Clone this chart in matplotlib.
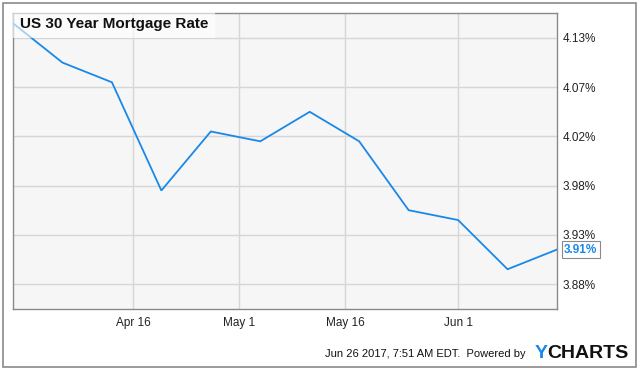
import matplotlib
matplotlib.use("Agg")
import matplotlib.pyplot as plt
import matplotlib.dates as mdates
from matplotlib.patches import Rectangle
import datetime as dt

plt.rcParams['font.family'] = ['Liberation Sans', 'DejaVu Sans']

dates = ["2017-03-30", "2017-04-06", "2017-04-13", "2017-04-20", "2017-04-27",
         "2017-05-04", "2017-05-11", "2017-05-18", "2017-05-25", "2017-06-01",
         "2017-06-08", "2017-06-15"]
rates = [4.14, 4.10, 4.08, 3.97, 4.03, 4.02, 4.05, 4.02, 3.95, 3.94, 3.89, 3.91]

ytick_values = [3.875, 3.925, 3.975, 4.025, 4.075, 4.125]
ytick_labels = ["3.88%", "3.93%", "3.98%", "4.02%", "4.07%", "4.13%"]
xtick_dates = ["2017-04-16", "2017-05-01", "2017-05-16", "2017-06-01"]
xtick_labels = ["Apr 16", "May 1", "May 16", "Jun 1"]

title = "US 30 Year Mortgage Rate"
footer = "Jun 26 2017, 7:51 AM EDT.  Powered by"

W, H = 641, 371
fig = plt.figure(figsize=(W / 100, H / 100), dpi=100)
fig.patch.set_facecolor("white")

# outer border
fig.patches.append(Rectangle((3 / W, 4 / H), 633 / W, 364 / H, transform=fig.transFigure,
                             fill=False, edgecolor="#8a8a8a", linewidth=1.2))

L, T, R, B = 13, 13, 557, 309
ax = fig.add_axes([L / W, 1 - B / H, (R - L) / W, (B - T) / H])
ax.set_facecolor("#f6f6f6")

x = [mdates.date2num(dt.datetime.strptime(d, "%Y-%m-%d")) for d in dates]
xt = [mdates.date2num(dt.datetime.strptime(d, "%Y-%m-%d")) for d in xtick_dates]

ax.plot(x, rates, color="#1a88e8", linewidth=1.3, solid_joinstyle="miter", zorder=3)
ax.set_xlim(x[0], x[-1])
ax.set_ylim(3.8496, 4.1504)

ax.set_yticks(ytick_values)
ax.set_yticklabels(ytick_labels)
ax.set_xticks(xt)
ax.set_xticklabels(xtick_labels)
ax.yaxis.tick_right()
ax.tick_params(axis="both", length=0, labelsize=8.5, colors="#222222")
ax.tick_params(axis="y", pad=4)
ax.tick_params(axis="x", pad=6)
ax.grid(True, color="#d6d6d6", linewidth=1.0)
ax.set_axisbelow(True)
for s in ax.spines.values():
    s.set_edgecolor("#8a8a8a")
    s.set_linewidth(1.0)

# title with light box
ax.text(0.012, 0.962, title, transform=ax.transAxes, fontsize=11, fontweight="bold",
        color="#111111", va="center", ha="left",
        bbox=dict(boxstyle="square,pad=0.45", facecolor="white", edgecolor="none", alpha=0.6),
        zorder=4)

# last value label
ax.annotate(f"{rates[-1]:.2f}%", xy=(x[-1], rates[-1]), xycoords="data",
            xytext=(5, 0), textcoords="offset points", fontsize=8.5, fontweight="bold",
            color="#1a88e8", va="center", ha="left", annotation_clip=False,
            bbox=dict(boxstyle="square,pad=0.2", facecolor="white", edgecolor="#8a8a8a",
                      linewidth=0.8), zorder=5)

# footer
fig.text(526 / W, 1 - 354 / H, footer, fontsize=8, color="#111111", ha="right", va="center")
ty = fig.text(535 / W, 1 - 353 / H, "Y", fontsize=14, fontweight="bold", color="#1a88e8",
              ha="left", va="center")
fig.canvas.draw()
bb = ty.get_window_extent(renderer=fig.canvas.get_renderer())
fig.text(bb.x1 / W - 0.5 / W, 1 - 353 / H, "CHARTS", fontsize=14, fontweight="bold",
         color="#111111", ha="left", va="center")

fig.savefig("out.png", dpi=100, facecolor="white")
